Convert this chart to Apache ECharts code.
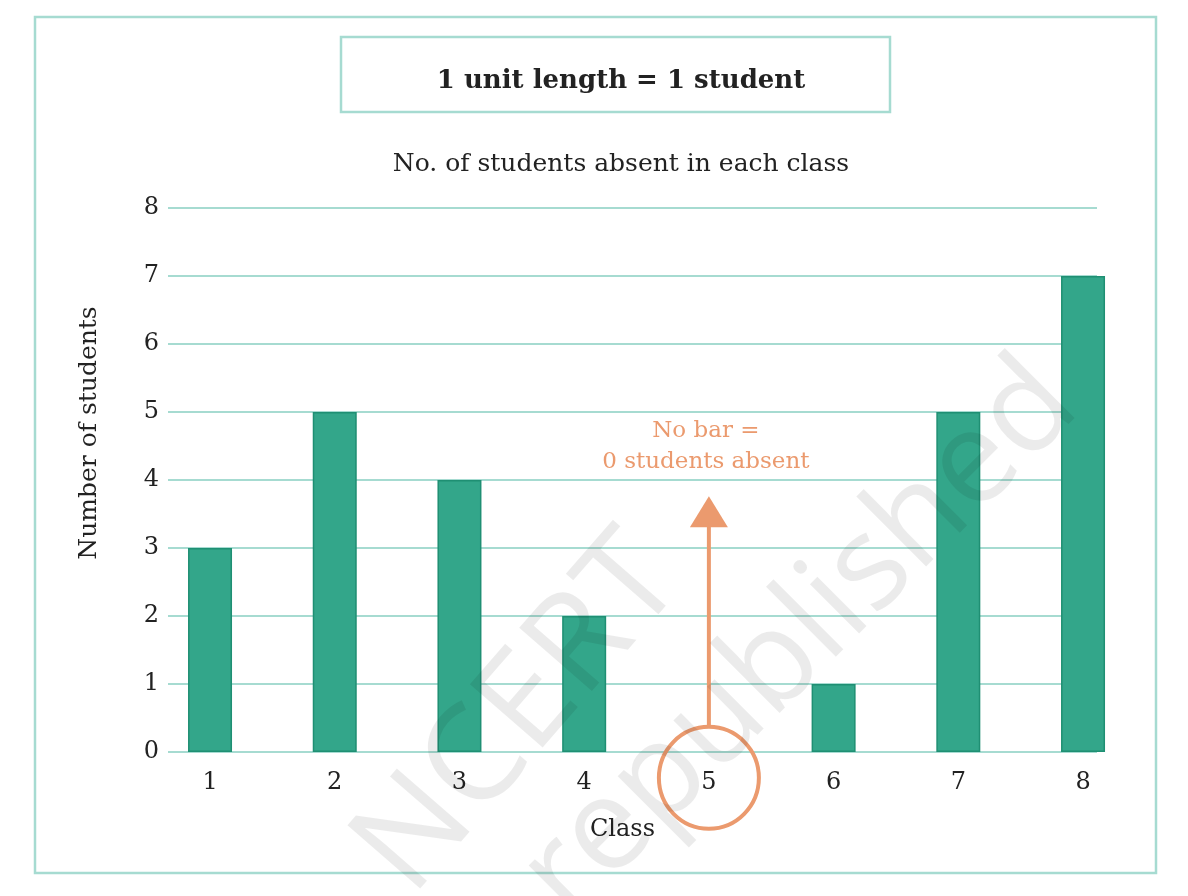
<!DOCTYPE html>
<html>
<head>
<meta charset="utf-8">
<script src="https://cdn.jsdelivr.net/npm/echarts@6/dist/echarts.min.js"></script>
<style>
  html, body { margin: 0; padding: 0; background: #fff; }
  #chart { width: 1188px; height: 896px; }
</style>
</head>
<body>
<div id="chart"></div>
<script>
const chart = echarts.init(document.getElementById("chart"));

// ==========================
// DATA
// ==========================

const CLASSES = ["1", "2", "3", "4", "5", "6", "7", "8"];
const ABSENT = [3, 5, 4, 2, 0, 1, 5, 7];
const Y_TICKS = [0, 1, 2, 3, 4, 5, 6, 7, 8];

const TITLE = "1 unit length = 1 student";
const SUBTITLE = "No. of students absent in each class";
const NOTE = ["No bar =", "0 students absent"];
const NOTE_CLASS = "5";

// ==========================
// STYLE
// ==========================

const SERIF = "DejaVu Serif";
const TEAL_LINE = "#a6dbd1";
const BAR = "#33a68a";
const BAR_EDGE = "#1f8f73";
const ORANGE = "#eb9a6e";
const INK = "#222";

const classPos = CLASSES.map((c, i) => i + 1);

chart.setOption({
  animation: false,
  title: [
    {
      text: TITLE,
      left: 616,
      top: 63,
      textAlign: "center",
      textStyle: { fontFamily: SERIF, fontSize: 26, fontWeight: "bold", color: INK }
    },
    {
      text: SUBTITLE,
      left: 616,
      top: 147,
      textAlign: "center",
      textStyle: { fontFamily: SERIF, fontSize: 25, fontWeight: "normal", color: INK }
    }
  ],
  grid: { left: 168, right: 91, top: 208, bottom: 144 },
  xAxis: {
    type: "value",
    min: 0.663,
    max: 8.112,
    name: "Class",
    nameLocation: "middle",
    nameGap: 66,
    nameTextStyle: { fontFamily: SERIF, fontSize: 24, color: INK, padding: [0, 20, 0, 0] },
    axisLine: { show: false },
    axisTick: { show: false },
    splitLine: { show: false },
    axisLabel: {
      customValues: classPos,
      margin: 19,
      fontFamily: SERIF,
      fontSize: 24,
      color: INK,
      formatter: v => CLASSES[Math.round(v) - 1]
    }
  },
  yAxis: {
    type: "value",
    min: Y_TICKS[0],
    max: Y_TICKS[Y_TICKS.length - 1],
    interval: 1,
    name: "Number of students",
    nameLocation: "middle",
    nameRotate: 90,
    nameGap: 66,
    nameTextStyle: { fontFamily: SERIF, fontSize: 25, color: INK, padding: [0, 0, 0, 94] },
    axisLine: { show: false },
    axisTick: { show: false },
    axisLabel: { fontFamily: SERIF, fontSize: 24, color: INK, margin: 9 },
    splitLine: { lineStyle: { color: TEAL_LINE, width: 2 } }
  },
  series: [
    {
      type: "bar",
      barWidth: 44,
      clip: false,
      data: ABSENT.map((v, i) => ({
        value: [classPos[i], v],
        itemStyle: { borderWidth: v > 0 ? 1.5 : 0 }
      })),
      itemStyle: { color: BAR, borderColor: BAR_EDGE, borderWidth: 1.5 }
    }
  ]
});

// ==========================
// FRAME, ANNOTATION, WATERMARK
// ==========================

const noteIdx = CLASSES.indexOf(NOTE_CLASS);
const base = chart.convertToPixel({ gridIndex: 0 }, [classPos[noteIdx], 0]);
const tip = chart.convertToPixel({ gridIndex: 0 }, [classPos[noteIdx], 3.76]);
const circleTop = chart.convertToPixel({ gridIndex: 0 }, [classPos[noteIdx], 0.37]);
const cx = base[0];

chart.setOption({
  graphic: [
    {
      type: "rect",
      shape: { x: 35, y: 17, width: 1121, height: 856 },
      style: { fill: null, stroke: TEAL_LINE, lineWidth: 2.5 },
      silent: true
    },
    {
      type: "rect",
      shape: { x: 341, y: 37, width: 549, height: 75 },
      style: { fill: null, stroke: TEAL_LINE, lineWidth: 2.5 },
      silent: true
    },
    {
      type: "ellipse",
      shape: { cx: cx, cy: circleTop[1] + 51, rx: 50, ry: 51 },
      style: { fill: null, stroke: ORANGE, lineWidth: 4 },
      silent: true
    },
    {
      type: "line",
      shape: { x1: cx, y1: circleTop[1], x2: cx, y2: tip[1] + 25 },
      style: { stroke: ORANGE, lineWidth: 4 },
      silent: true
    },
    {
      type: "polygon",
      shape: { points: [[cx, tip[1]], [cx - 19, tip[1] + 31], [cx + 19, tip[1] + 31]] },
      style: { fill: ORANGE },
      silent: true
    },
    {
      type: "text",
      x: cx - 3,
      y: tip[1] - 50,
      style: {
        text: NOTE.join("\n"),
        fill: ORANGE,
        font: "23px '" + SERIF + "'",
        align: "center",
        verticalAlign: "middle",
        lineHeight: 31
      },
      silent: true
    },
    {
      type: "text",
      x: 520,
      y: 715,
      rotation: 49 * Math.PI / 180,
      z: 100,
      style: {
        text: "NCERT",
        fill: "rgba(0,0,0,0.08)",
        font: "135px 'Open Sans'",
        align: "center",
        verticalAlign: "middle"
      },
      silent: true
    },
    {
      type: "text",
      x: 800,
      y: 640,
      rotation: 45 * Math.PI / 180,
      z: 100,
      style: {
        text: "republished",
        fill: "rgba(0,0,0,0.08)",
        font: "130px 'Open Sans'",
        align: "center",
        verticalAlign: "middle"
      },
      silent: true
    }
  ]
});
</script>
</body>
</html>
